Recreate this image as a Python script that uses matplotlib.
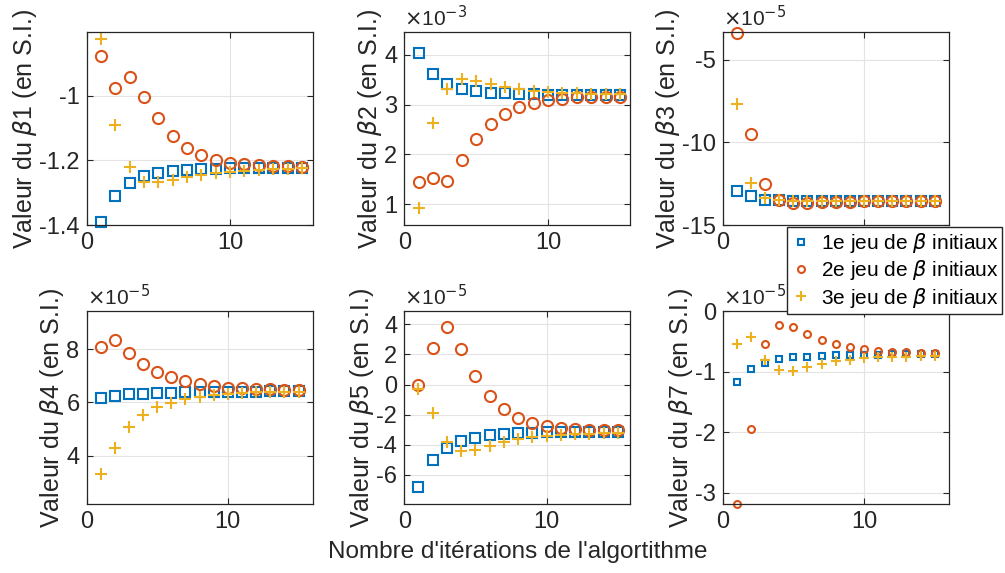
import numpy as np
import matplotlib
matplotlib.use("Agg")
import matplotlib.pyplot as plt

plt.rcParams['font.family'] = ['Liberation Sans', 'DejaVu Sans']
plt.rcParams['mathtext.fontset'] = 'dejavusans'
plt.rcParams['axes.unicode_minus'] = False

# === Data (in axis display units) ===
iters = np.arange(1, 16)

b1_set1 = [-1.392, -1.309, -1.269, -1.249, -1.239, -1.234, -1.230, -1.227, -1.226, -1.225, -1.225, -1.225, -1.224, -1.224, -1.224]
b1_set2 = [-0.877, -0.976, -0.942, -1.004, -1.071, -1.124, -1.161, -1.184, -1.198, -1.207, -1.211, -1.215, -1.218, -1.219, -1.220]
b1_set3 = [-0.824, -1.090, -1.222, -1.266, -1.268, -1.261, -1.253, -1.245, -1.239, -1.235, -1.232, -1.229, -1.227, -1.226, -1.225]

b2_set1 = [4.03, 3.62, 3.42, 3.32, 3.27, 3.24, 3.23, 3.21, 3.21, 3.20, 3.20, 3.20, 3.20, 3.19, 3.19]
b2_set2 = [1.45, 1.53, 1.47, 1.88, 2.31, 2.61, 2.82, 2.95, 3.03, 3.09, 3.12, 3.145, 3.15, 3.16, 3.16]
b2_set3 = [0.92, 2.62, 3.31, 3.51, 3.48, 3.42, 3.36, 3.31, 3.28, 3.25, 3.24, 3.23, 3.22, 3.21, 3.21]

b3_set1 = [-12.94, -13.27, -13.48, -13.50, -13.52, -13.53, -13.53, -13.53, -13.53, -13.53, -13.53, -13.53, -13.53, -13.53, -13.53]
b3_set2 = [-3.40, -9.48, -12.50, -13.47, -13.67, -13.67, -13.63, -13.60, -13.58, -13.57, -13.56, -13.56, -13.55, -13.55, -13.55]
b3_set3 = [-7.67, -12.48, -13.36, -13.48, -13.55, -13.56, -13.56, -13.56, -13.55, -13.55, -13.55, -13.55, -13.55, -13.55, -13.55]

b4_set1 = [6.16, 6.25, 6.30, 6.325, 6.35, 6.36, 6.375, 6.39, 6.40, 6.40, 6.41, 6.41, 6.42, 6.42, 6.42]
b4_set2 = [8.09, 8.34, 7.84, 7.43, 7.14, 6.95, 6.80, 6.69, 6.61, 6.56, 6.53, 6.50, 6.49, 6.475, 6.47]
b4_set3 = [3.31, 4.30, 5.09, 5.55, 5.84, 5.99, 6.12, 6.21, 6.275, 6.325, 6.35, 6.375, 6.39, 6.40, 6.41]

b5_set1 = [-6.78, -5.03, -4.21, -3.75, -3.53, -3.37, -3.28, -3.24, -3.19, -3.17, -3.16, -3.15, -3.15, -3.14, -3.14]
b5_set2 = [0.0, 2.42, 3.79, 2.33, 0.58, -0.75, -1.62, -2.20, -2.53, -2.75, -2.86, -2.93, -2.99, -3.02, -3.04]
b5_set3 = [-0.31, -1.91, -3.79, -4.43, -4.35, -4.08, -3.84, -3.61, -3.48, -3.39, -3.33, -3.28, -3.26, -3.24, -3.22]

b7_set1 = [-1.17, -0.96, -0.86, -0.79, -0.76, -0.75, -0.74, -0.725, -0.72, -0.715, -0.715, -0.71, -0.71, -0.71, -0.71]
b7_set2 = [-3.19, -1.94, -0.54, -0.22, -0.26, -0.37, -0.47, -0.54, -0.59, -0.63, -0.655, -0.67, -0.68, -0.686, -0.69]
b7_set3 = [-0.54, -0.43, -0.80, -0.97, -0.98, -0.92, -0.87, -0.83, -0.80, -0.78, -0.76, -0.75, -0.75, -0.74, -0.74]

names = ["1", "2", "3", "4", "5", "7"]
exponents = [None, -3, -5, -5, -5, -5]
yticks = [[-1.4, -1.2, -1], [1, 2, 3, 4], [-15, -10, -5], [4, 6, 8], [-6, -4, -2, 0, 2, 4], [-3, -2, -1, 0]]
ylims = [(-1.4, -0.805), (0.58, 4.45), (-15, -3.36), (2.2, 9.41), (-7.94, 4.86), (-3.19, 0)]
xmax = [15.75, 15.72, 16, 16, 15.87, 16]
series = [(b1_set1, b1_set2, b1_set3), (b2_set1, b2_set2, b2_set3), (b3_set1, b3_set2, b3_set3),
          (b4_set1, b4_set2, b4_set3), (b5_set1, b5_set2, b5_set3), (b7_set1, b7_set2, b7_set3)]
legend_labels = [r"1e jeu de $\beta$ initiaux", r"2e jeu de $\beta$ initiaux", r"3e jeu de $\beta$ initiaux"]

colors = ['#0072BD', '#D95319', '#EDB120']
axcol = '#262626'

# === Figure layout ===
fig = plt.figure(figsize=(10.05, 5.73), dpi=100)
lefts = [0.0861, 0.4022, 0.7191]
bottoms = [0.6073, 0.1204]
w, h = 0.2250, 0.3362

axs = []
for k in range(6):
    r, c = divmod(k, 3)
    ax = fig.add_axes([lefts[c], bottoms[r], w, h])
    axs.append(ax)

for k, ax in enumerate(axs):
    s1, s2, s3 = series[k]
    small = (k == 5)
    ms_s, ms_o, ms_p = (4.5, 5, 6.5) if small else (6.5, 8, 8.5)
    ax.plot(iters, s1, ls='none', marker='s', ms=ms_s, mfc='none', mec=colors[0], mew=1.5, clip_on=False, label=legend_labels[0])
    ax.plot(iters, s2, ls='none', marker='o', ms=ms_o, mfc='none', mec=colors[1], mew=1.5, clip_on=False, label=legend_labels[1])
    ax.plot(iters, s3, ls='none', marker='+', ms=ms_p, mec=colors[2], mew=1.5, clip_on=False, label=legend_labels[2])
    ax.set_xlim(0, xmax[k])
    ax.set_ylim(*ylims[k])
    ax.set_xticks([0, 10])
    if k == 2:
        ax.set_xticklabels(["0", ""])  # "10" is hidden behind the legend
    ax.set_yticks(yticks[k])
    ax.set_yticklabels([f"{t:g}" for t in yticks[k]])
    ax.grid(True, color='#e3e3e3', lw=0.8)
    ax.set_axisbelow(True)
    ax.tick_params(direction='in', length=4, width=0.8, colors=axcol, labelsize=17,
                   top=True, right=True, pad=5)
    for sp in ax.spines.values():
        sp.set_color(axcol)
        sp.set_linewidth(0.9)
    ax.set_ylabel(r"Valeur du $\beta$" + names[k] + " (en S.I.)", fontsize=18, color=axcol, labelpad=0)
    if exponents[k] is not None:
        ax.text(0.0, 1.01, r"$\times$10$^{%d}$" % exponents[k], transform=ax.transAxes,
                fontsize=15, color=axcol, ha='left', va='bottom')

axs[4].set_xlabel("Nombre d'itérations de l'algortithme", fontsize=17.5, color=axcol, labelpad=6)

handles, labels = axs[5].get_legend_handles_labels()
leg = fig.legend(handles, labels, loc='upper right', bbox_to_anchor=(0.9975, 0.6035),
                 fontsize=15, frameon=True, fancybox=False, edgecolor=axcol, framealpha=1,
                 borderpad=0.2, handletextpad=0.5, labelspacing=0.15, handlelength=0.9,
                 borderaxespad=0)
leg.set_zorder(10)

fig.savefig("out.png", dpi=100)
